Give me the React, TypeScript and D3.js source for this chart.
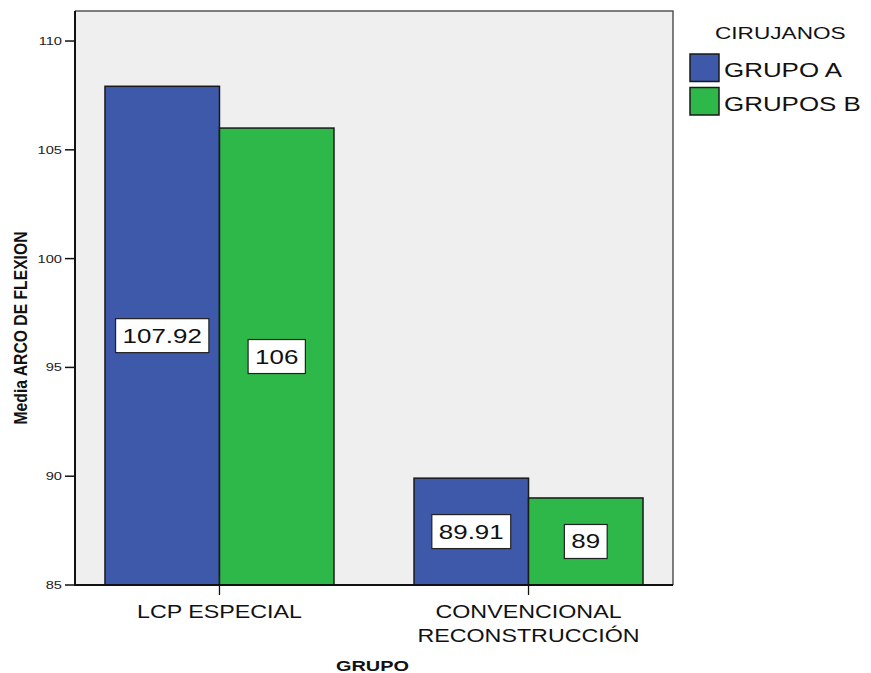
import React, { useEffect, useRef } from "react";
import * as d3 from "d3";

// Chart data
const categories: string[][] = [["LCP ESPECIAL"], ["CONVENCIONAL", "RECONSTRUCCIÓN"]];
const seriesNames = ["GRUPO A", "GRUPOS B"];
const grupoA = [107.92, 89.91];
const gruposB = [106, 89];
const valueLabelsA = ["107.92", "89.91"];
const valueLabelsB = ["106", "89"];
const yTicks = [85, 90, 95, 100, 105, 110];
const seriesColors = ["#3e58aa", "#2fb84a"];

const W = 871;
const H = 673;
const FONT = "'Liberation Sans', Arial, sans-serif";
const SX = 1.33; // horizontal text stretch

export default function App() {
  const ref = useRef<SVGSVGElement | null>(null);

  useEffect(() => {
    const svg = d3.select(ref.current);
    svg.selectAll("*").remove();

    const plot = { left: 75, right: 673, top: 11, bottom: 585 };

    const catKeys = categories.map((c) => c.join(" "));
    const x0 = d3
      .scaleBand<string>()
      .domain(catKeys)
      .range([plot.left, plot.right])
      .paddingInner(0.259)
      .paddingOuter(0.097);
    const x1 = d3.scaleBand<string>().domain(seriesNames).range([0, x0.bandwidth()]);
    const y = d3.scaleLinear().domain([85, 111.38]).range([plot.bottom, plot.top]);

    const stretched = (g: any, x: number, yy: number) =>
      g.append("text").attr("transform", `translate(${x},${yy}) scale(${SX},1)`).attr("font-family", FONT);

    // plot background
    svg
      .append("rect")
      .attr("x", plot.left)
      .attr("y", plot.top)
      .attr("width", plot.right - plot.left)
      .attr("height", plot.bottom - plot.top)
      .attr("fill", "#efefef");

    // bars
    const series = [
      { name: seriesNames[0], values: grupoA, labels: valueLabelsA, color: seriesColors[0] },
      { name: seriesNames[1], values: gruposB, labels: valueLabelsB, color: seriesColors[1] },
    ];
    const bars = svg.append("g");
    series.forEach((s) => {
      s.values.forEach((v, i) => {
        const bx = (x0(catKeys[i]) as number) + (x1(s.name) as number);
        bars
          .append("rect")
          .attr("x", bx)
          .attr("y", y(v))
          .attr("width", x1.bandwidth())
          .attr("height", y(85) - y(v))
          .attr("fill", s.color)
          .attr("stroke", "#1a1a1a")
          .attr("stroke-width", 1.5);
      });
    });

    // value labels in white boxes, centred in each bar
    const labels = svg.append("g");
    series.forEach((s) => {
      s.values.forEach((v, i) => {
        const cx = (x0(catKeys[i]) as number) + (x1(s.name) as number) + x1.bandwidth() / 2;
        const cy = (y(v) + y(85)) / 2;
        const g = labels.append("g");
        const box = g.append("rect");
        const t = stretched(g, cx, cy + 7)
          .attr("text-anchor", "middle")
          .attr("font-size", 19.5)
          .attr("fill", "#111")
          .text(s.labels[i]);
        const tw = (t.node() as SVGTextElement).getComputedTextLength() * SX;
        const bw = tw + 14;
        box
          .attr("x", cx - bw / 2)
          .attr("y", cy - 17)
          .attr("width", bw)
          .attr("height", 34)
          .attr("fill", "#fff")
          .attr("stroke", "#222")
          .attr("stroke-width", 1.2);
      });
    });

    // frame: top and right in grey, axes in black
    svg
      .append("path")
      .attr("d", `M${plot.left},${plot.top}H${plot.right}V${plot.bottom}`)
      .attr("fill", "none")
      .attr("stroke", "#555")
      .attr("stroke-width", 1.5);
    svg
      .append("path")
      .attr("d", `M${plot.left},${plot.top}V${plot.bottom}H${plot.right}`)
      .attr("fill", "none")
      .attr("stroke", "#111")
      .attr("stroke-width", 2);

    // y axis ticks
    const yAxis = svg.append("g");
    yTicks.forEach((tv) => {
      yAxis
        .append("line")
        .attr("x1", 65)
        .attr("x2", plot.left)
        .attr("y1", y(tv))
        .attr("y2", y(tv))
        .attr("stroke", "#111")
        .attr("stroke-width", 1.5);
      stretched(yAxis, 62, y(tv) + 4)
        .attr("text-anchor", "end")
        .attr("font-size", 11)
        .attr("fill", "#222")
        .text(String(tv));
    });

    // x axis ticks and category labels
    const xAxis = svg.append("g");
    categories.forEach((lines, i) => {
      const cx = (x0(catKeys[i]) as number) + x0.bandwidth() / 2;
      xAxis
        .append("line")
        .attr("x1", cx)
        .attr("x2", cx)
        .attr("y1", plot.bottom)
        .attr("y2", plot.bottom + 10)
        .attr("stroke", "#111")
        .attr("stroke-width", 1.3);
      lines.forEach((ln, j) => {
        stretched(xAxis, cx, 618 + j * 24)
          .attr("text-anchor", "middle")
          .attr("font-size", 17.5)
          .attr("fill", "#111")
          .text(ln);
      });
    });

    // axis titles
    stretched(svg, 372.5, 671)
      .attr("text-anchor", "middle")
      .attr("font-size", 15)
      .attr("font-weight", "bold")
      .attr("fill", "#111")
      .text("GRUPO");

    svg
      .append("text")
      .attr("transform", `translate(27,328) scale(${SX},1) rotate(-90)`)
      .attr("font-family", FONT)
      .attr("text-anchor", "middle")
      .attr("font-size", 14.5)
      .attr("font-weight", "bold")
      .attr("fill", "#111")
      .attr("textLength", 193)
      .attr("lengthAdjust", "spacingAndGlyphs")
      .text("Media ARCO DE FLEXION");

    // legend
    const legend = svg.append("g");
    stretched(legend, 715, 39).attr("font-size", 17).attr("fill", "#111").text("CIRUJANOS");
    series.forEach((s, i) => {
      const ly = 54 + i * 33.5;
      legend
        .append("rect")
        .attr("x", 690)
        .attr("y", ly)
        .attr("width", 29)
        .attr("height", 27.5)
        .attr("fill", s.color)
        .attr("stroke", "#1a1a1a")
        .attr("stroke-width", 1.5);
      stretched(legend, 724, ly + 23)
        .attr("font-size", 19.5)
        .attr("fill", "#111")
        .text(s.name);
    });
  }, []);

  return (
    <svg
      ref={ref}
      width={W}
      height={H}
      style={{ position: "absolute", left: 0, top: 0, background: "#fff" }}
    />
  );
}
